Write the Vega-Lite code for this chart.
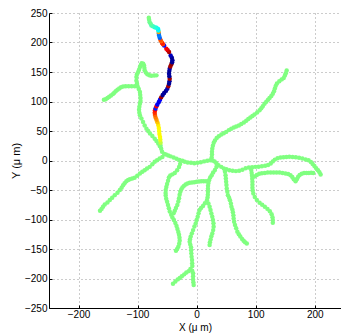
{
"$schema":"https://vega.github.io/schema/vega-lite/v6.json",
"width":292,"height":295,
"autosize":{"type":"none"},
"padding":{"left":49,"top":13,"right":0,"bottom":25},
"config":{"view":{"stroke":null},"font":"Liberation Sans",
"axis":{"grid":true,"gridDash":[1,3],"gridColor":"#999999","gridWidth":1,"domainColor":"#000000","domainWidth":1,"tickColor":"#000000","tickSize":-3,"labelColor":"#000000","labelFontSize":10,"titleFontSize":11,"titleFontWeight":"normal","titleColor":"#000000","labelFlush":false}},
"datasets":{
"green":[
{"x":-55,"y":11},{"x":-52,"y":10},{"x":-58.5,"y":15},{"x":-60,"y":20},{"x":-61,"y":25},
{"x":-62.5,"y":24.5},{"x":-65,"y":28.8},{"x":-68,"y":33},{"x":-71,"y":37},{"x":-75,"y":41.5},{"x":-79,"y":45.7},{"x":-82,"y":50},{"x":-85,"y":54},{"x":-88,"y":59.5},{"x":-90.7,"y":65.3},{"x":-93.5,"y":71},{"x":-96,"y":76.6},{"x":-97,"y":81},{"x":-97.5,"y":86},{"x":-97,"y":91},{"x":-96,"y":96},{"x":-95,"y":101},{"x":-95,"y":106},{"x":-95.5,"y":111},{"x":-96,"y":116},{"x":-98,"y":121},{"x":-100,"y":125.7},{"x":-101,"y":130},{"x":-102,"y":135},{"x":-102,"y":141.5},{"x":-101,"y":146},{"x":-99,"y":150},{"x":-97.5,"y":154},{"x":-96,"y":158.4},{"x":-94.5,"y":162},{"x":-93,"y":165},{"x":-90.5,"y":164},{"x":-89,"y":161},{"x":-88.5,"y":157},{"x":-88,"y":152.8},{"x":-86,"y":149},{"x":-83.4,"y":146},{"x":-80,"y":144.5},{"x":-76.6,"y":143.5},{"x":-72,"y":144},{"x":-68,"y":144.3},
{"x":-104.7,"y":125.7},{"x":-110,"y":125.7},{"x":-115,"y":125.7},{"x":-120,"y":125.7},{"x":-124.5,"y":125.5},{"x":-128,"y":124},{"x":-131,"y":122},{"x":-134,"y":120},{"x":-137,"y":117.5},{"x":-139.5,"y":115},{"x":-142,"y":112.5},{"x":-145,"y":110},{"x":-148,"y":108},{"x":-151,"y":106},{"x":-154,"y":104},{"x":-157,"y":103},
{"x":-58,"y":6},{"x":-62.6,"y":3.4},{"x":-67,"y":0.5},{"x":-71,"y":-2.3},{"x":-75,"y":-6.5},{"x":-79.4,"y":-10.8},{"x":-84,"y":-13.5},{"x":-88,"y":-16.4},{"x":-92,"y":-19},{"x":-96,"y":-22},{"x":-100.5,"y":-25.7},{"x":-105,"y":-29.4},{"x":-109,"y":-30.5},{"x":-113,"y":-31.6},{"x":-116,"y":-33},{"x":-119,"y":-35},{"x":-122,"y":-38.5},{"x":-124.5,"y":-41.8},{"x":-127,"y":-46},{"x":-130,"y":-50},{"x":-134,"y":-54.5},{"x":-138.7,"y":-58.7},{"x":-143,"y":-63},{"x":-147,"y":-67},{"x":-151,"y":-71},{"x":-155.6,"y":-74.5},{"x":-158.5,"y":-78.5},{"x":-161,"y":-82},{"x":-163.6,"y":-85},
{"x":-48,"y":8.5},{"x":-44,"y":7},{"x":-39,"y":5},{"x":-34,"y":3},{"x":-29,"y":1},{"x":-24,"y":-0.5},{"x":-20,"y":-2.3},{"x":-15,"y":-3.4},{"x":-9.5,"y":-4},{"x":-4,"y":-4.5},{"x":1.5,"y":-4},{"x":7,"y":-2.8},{"x":12.5,"y":-1.5},{"x":18,"y":-0.6},{"x":23,"y":0.5},{"x":27,"y":0},{"x":30.5,"y":-1.5},{"x":33.5,"y":-4.5},{"x":37,"y":-8},{"x":41.7,"y":-10.8},{"x":46,"y":-13.5},{"x":50.5,"y":-15},{"x":55.5,"y":-16.5},{"x":61,"y":-17.5},{"x":66.5,"y":-18},{"x":72,"y":-17.5},{"x":77.5,"y":-15.5},{"x":83,"y":-13},{"x":88.5,"y":-12},{"x":94,"y":-11.3},{"x":99.5,"y":-10.8},{"x":105,"y":-10.5},{"x":110.5,"y":-9.7},{"x":116,"y":-9},{"x":121,"y":-7.5},{"x":125.5,"y":-5},{"x":129,"y":-1.5},{"x":132.5,"y":1.5},{"x":137,"y":4},{"x":142,"y":5},{"x":147,"y":5.5},{"x":152,"y":6},{"x":157,"y":6.2},{"x":162.5,"y":6},{"x":168,"y":5.6},{"x":173.5,"y":4.5},{"x":179,"y":3.3},{"x":184.5,"y":1.8},{"x":189.5,"y":0.3},{"x":193.5,"y":-2.5},{"x":196.5,"y":-6},{"x":199.5,"y":-9.5},{"x":202.5,"y":-13},{"x":205.5,"y":-16.5},{"x":208,"y":-20},{"x":210,"y":-23.7},
{"x":25.5,"y":5},{"x":26,"y":10},{"x":26,"y":15},{"x":26.5,"y":20},{"x":27.5,"y":25},{"x":29,"y":30},{"x":31,"y":34},{"x":34,"y":38},{"x":37.5,"y":41},{"x":41.8,"y":44},{"x":46,"y":46},{"x":50,"y":48.5},{"x":54.5,"y":51.5},{"x":58.7,"y":54},{"x":63,"y":56},{"x":67,"y":57.5},{"x":71.5,"y":59.5},{"x":75.6,"y":62},{"x":80,"y":64.5},{"x":84,"y":67.5},{"x":87.5,"y":70.5},{"x":91,"y":73},{"x":94.5,"y":75.5},{"x":98,"y":78},{"x":102.5,"y":81.5},{"x":106.6,"y":85},{"x":109.5,"y":88.5},{"x":112,"y":92},{"x":115,"y":96},{"x":118,"y":99.5},{"x":121,"y":103},{"x":123.5,"y":106},{"x":126.5,"y":109.5},{"x":129,"y":113},{"x":131,"y":117.5},{"x":132.5,"y":122},{"x":134,"y":126.5},{"x":136,"y":130.5},{"x":140,"y":134.5},{"x":144,"y":137.5},{"x":147.5,"y":140},{"x":149.5,"y":144},{"x":151,"y":148},{"x":152.5,"y":152.5},
{"x":-28,"y":-6},{"x":-29.8,"y":-11},{"x":-33,"y":-16.5},{"x":-37,"y":-21},{"x":-41,"y":-23.5},{"x":-44.6,"y":-25.5},{"x":-47,"y":-29},{"x":-48.4,"y":-34.5},{"x":-50,"y":-40},{"x":-51.3,"y":-45},{"x":-52.3,"y":-50},{"x":-52.5,"y":-55},{"x":-52.4,"y":-59.5},{"x":-51.5,"y":-65},{"x":-50,"y":-70},{"x":-48.5,"y":-75.5},{"x":-47,"y":-81},{"x":-45.5,"y":-86.5},{"x":-43,"y":-92},{"x":-41,"y":-96.5},{"x":-38.5,"y":-101},{"x":-36,"y":-106},{"x":-34,"y":-111},{"x":-32.5,"y":-116},{"x":-31,"y":-121},{"x":-29.8,"y":-126},{"x":-29,"y":-131},{"x":-28.7,"y":-136},{"x":-29.5,"y":-141},{"x":-31,"y":-146},{"x":-33,"y":-150},{"x":-35,"y":-153},
{"x":16,"y":-35},{"x":12,"y":-35},{"x":8,"y":-35.2},{"x":4,"y":-35.5},{"x":0,"y":-36},{"x":-3.8,"y":-36.7},{"x":-7.8,"y":-37.3},{"x":-11.8,"y":-37.8},{"x":-15.5,"y":-39},{"x":-18.6,"y":-40.7},{"x":-21.5,"y":-43},{"x":-24,"y":-45.6},{"x":-26,"y":-49},{"x":-27.6,"y":-53},{"x":-28.8,"y":-58},{"x":-29.8,"y":-64},{"x":-31,"y":-69.5},{"x":-32.7,"y":-75.6},{"x":-35,"y":-80.5},{"x":-37,"y":-85},{"x":-39,"y":-89.5},
{"x":33.5,"y":-11},{"x":31,"y":-16},{"x":28,"y":-20.5},{"x":25.5,"y":-25},{"x":23,"y":-29},{"x":21,"y":-33.3},{"x":20,"y":-38},{"x":19.3,"y":-43},{"x":19.2,"y":-48},{"x":19.2,"y":-53},{"x":19,"y":-58},{"x":18.5,"y":-62.5},{"x":17.5,"y":-67.2},
{"x":14,"y":-72.5},{"x":10.8,"y":-77.3},{"x":7.5,"y":-80.5},{"x":5,"y":-84},{"x":3.3,"y":-89.5},{"x":1.8,"y":-95.4},{"x":0,"y":-101},{"x":-1.6,"y":-106.6},{"x":-3.8,"y":-112},{"x":-6,"y":-118},{"x":-8,"y":-123.5},{"x":-10,"y":-129},{"x":-11.2,"y":-133.5},{"x":-11.8,"y":-137.7},{"x":-10.8,"y":-142.5},{"x":-9.5,"y":-147},{"x":-9.2,"y":-152},{"x":-9,"y":-157.4},{"x":-8.5,"y":-163},{"x":-7.8,"y":-168.7},{"x":-7.5,"y":-174},{"x":-7.3,"y":-179},
{"x":-10.5,"y":-184},{"x":-7.5,"y":-187},{"x":-6,"y":-191},{"x":-6,"y":-196},{"x":-6,"y":-201.5},{"x":-5.5,"y":-206.5},{"x":-5,"y":-211},{"x":-13.5,"y":-187.5},{"x":-17.4,"y":-190},{"x":-21,"y":-193},{"x":-25,"y":-196},{"x":-28.5,"y":-199},{"x":-32,"y":-201.5},{"x":-36,"y":-205},{"x":-40,"y":-209},
{"x":20,"y":-73},{"x":22,"y":-78.4},{"x":23.5,"y":-84},{"x":25,"y":-89.7},{"x":26.5,"y":-95.5},{"x":27.7,"y":-101},{"x":28.5,"y":-106.5},{"x":28.8,"y":-112.3},{"x":28,"y":-118},{"x":26.6,"y":-123.6},{"x":25,"y":-128.5},{"x":23.7,"y":-133.7},{"x":22.5,"y":-138.5},{"x":22,"y":-143.3},
{"x":48,"y":-19},{"x":49,"y":-24.9},{"x":49.5,"y":-30.5},{"x":50,"y":-36},{"x":50.5,"y":-41.7},{"x":51,"y":-47.4},{"x":52,"y":-53},{"x":53,"y":-58.7},{"x":55,"y":-63},{"x":56.5,"y":-67.5},{"x":58,"y":-73},{"x":59,"y":-78.4},{"x":60.5,"y":-83},{"x":61.5,"y":-87.5},{"x":62.3,"y":-93},{"x":62.7,"y":-98.2},{"x":63.5,"y":-104},{"x":65,"y":-109.5},{"x":67,"y":-115},{"x":69,"y":-120.7},{"x":71.5,"y":-125},{"x":74,"y":-129},{"x":77,"y":-133},{"x":79.6,"y":-136},{"x":82,"y":-138.5},{"x":85,"y":-140.5},
{"x":92.5,"y":-16},{"x":93.2,"y":-21},{"x":93.8,"y":-26},{"x":94.2,"y":-31},{"x":94.5,"y":-36},{"x":94.5,"y":-41},{"x":94.5,"y":-46},{"x":95,"y":-51},{"x":96,"y":-56},{"x":98.5,"y":-62},{"x":102,"y":-67},{"x":106.6,"y":-71.5},{"x":111,"y":-75},{"x":115.5,"y":-78.5},{"x":120,"y":-82},{"x":124,"y":-86},{"x":127,"y":-91},{"x":128.5,"y":-96},{"x":129,"y":-101},{"x":129,"y":-105.5},
{"x":98,"y":-27},{"x":102,"y":-24.5},{"x":106,"y":-22.5},{"x":110.5,"y":-21.5},{"x":115.5,"y":-21},{"x":120.5,"y":-20.5},{"x":125.5,"y":-20.5},{"x":130.5,"y":-20.5},{"x":135.5,"y":-20.5},{"x":140.5,"y":-20.5},{"x":145.5,"y":-21},{"x":150.5,"y":-22},{"x":155,"y":-23},{"x":159,"y":-25},{"x":162,"y":-28},{"x":164.5,"y":-31.6},{"x":167.6,"y":-35},{"x":170,"y":-31.5},{"x":172,"y":-27.5},{"x":174.5,"y":-24.5},{"x":178,"y":-22.3},{"x":182,"y":-21.3},{"x":186,"y":-21},{"x":190,"y":-21},{"x":194,"y":-20.8},{"x":197.5,"y":-21}
],
"apical":[
{"x":-61,"y":30,"v":0.56},{"x":-61.5,"y":35,"v":0.6},{"x":-62,"y":40,"v":0.62},{"x":-63,"y":45,"v":0.63},{"x":-63.5,"y":50,"v":0.62},{"x":-64,"y":55,"v":0.63},{"x":-65,"y":60,"v":0.64},{"x":-66.5,"y":65,"v":0.68},{"x":-68,"y":69,"v":0.72},{"x":-69.5,"y":73,"v":0.75},{"x":-70.5,"y":77,"v":0.78},{"x":-71,"y":81,"v":0.83},{"x":-70.5,"y":85,"v":0.86},{"x":-69.5,"y":88,"v":0.15},{"x":-68,"y":92,"v":0.88},{"x":-66.5,"y":95,"v":0.12},{"x":-64,"y":99,"v":0.1},{"x":-62,"y":103,"v":0.12},{"x":-60,"y":107,"v":0.97},{"x":-57.5,"y":111,"v":0.02},{"x":-55,"y":114.5,"v":0.03},{"x":-52,"y":118,"v":0.02},{"x":-49.6,"y":121.7,"v":0.05},{"x":-48,"y":126,"v":0.96},{"x":-46.7,"y":130,"v":0.02},{"x":-46,"y":134.5,"v":0.03},{"x":-45.6,"y":138.7,"v":0.97},{"x":-46.2,"y":143,"v":0.02},{"x":-46.7,"y":147.2,"v":0.03},{"x":-46.3,"y":151.5,"v":0.02},{"x":-45.6,"y":155.6,"v":0.04},{"x":-44.5,"y":159.5,"v":0.96},{"x":-42.8,"y":163,"v":0.98},{"x":-41.5,"y":166.5,"v":0.02},{"x":-41,"y":170,"v":0.03},{"x":-42,"y":174,"v":0.02},{"x":-44,"y":178,"v":0.06},{"x":-46.7,"y":183.8,"v":0.96},{"x":-49,"y":187,"v":0.92},{"x":-51.3,"y":189.6,"v":0.88},{"x":-55,"y":195,"v":0.14},{"x":-57,"y":197,"v":0.82},{"x":-58.5,"y":199,"v":0.85},{"x":-60,"y":202,"v":0.78},{"x":-61.4,"y":204.7,"v":0.8},{"x":-62.5,"y":208,"v":0.22},{"x":-63.6,"y":212,"v":0.25},{"x":-64,"y":215,"v":0.24},{"x":-64.3,"y":217.6,"v":0.72},{"x":-64.8,"y":220.5,"v":0.38},{"x":-65.3,"y":223,"v":0.37},{"x":-68,"y":225,"v":0.4},{"x":-71,"y":226,"v":0.41},{"x":-74,"y":227.5,"v":0.43},{"x":-76.6,"y":229,"v":0.45},{"x":-78,"y":232,"v":0.47},{"x":-79.5,"y":234.5,"v":0.48},{"x":-80.5,"y":238.5,"v":0.49},{"x":-81,"y":242,"v":0.5}
]},
"encoding":{
"x":{"field":"x","type":"quantitative","scale":{"domain":[-250,244.5],"nice":false,"zero":false},"axis":{"values":[-200,-100,0,100,200],"title":"X (μ m)","labelPadding":4,"titlePadding":3,"titleFontSize":10}},
"y":{"field":"y","type":"quantitative","scale":{"domain":[-250,250],"nice":false,"zero":false},"axis":{"values":[-250,-200,-150,-100,-50,0,50,100,150,200,250],"title":"Y (μ m)","labelPadding":5,"titlePadding":3}}
},
"layer":[
{"data":{"name":"green"},"mark":{"type":"circle","size":20,"color":"#80FF80","opacity":1}},
{"data":{"name":"apical"},"mark":{"type":"circle","size":20,"opacity":1},
"encoding":{"color":{"field":"v","type":"quantitative","scale":{"domain":[0,0.125,0.375,0.625,0.875,1],"range":["#00007F","#0000FF","#00FFFF","#FFFF00","#FF0000","#7F0000"],"interpolate":"rgb"},"legend":null}}}
]
}
